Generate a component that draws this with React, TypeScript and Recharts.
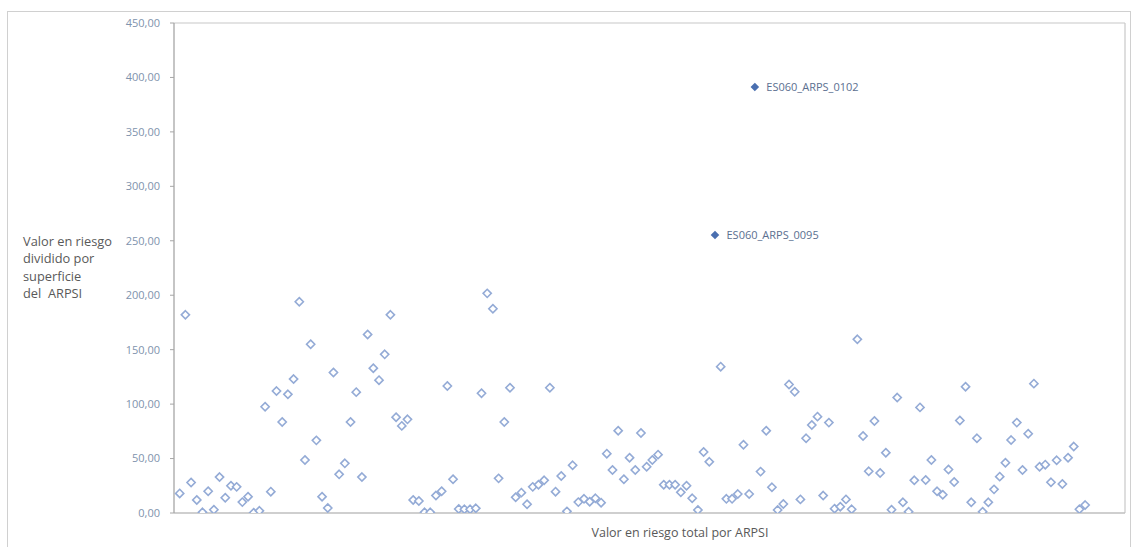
import React from 'react';
import { ScatterChart, Scatter, XAxis, YAxis, ReferenceLine } from 'recharts';

// Valor en riesgo dividido por superficie, one value per ARPSI (index order); null = highlighted ARPSI
const riskValues: (number | null)[] = [
  18, 182, 28, 12, 0.6, 20, 3, 33, 14, 25,
  24, 10, 15, 0.3, 2, 97.6, 19.6, 112, 83.6, 109,
  123, 194, 48.7, 155, 66.7, 15, 4.6, 129, 35.5, 45.6,
  83.6, 111, 33, 164, 133, 122, 145.7, 182, 88, 80,
  86, 12, 11, 0.6, 0.6, 16, 20, 116.6, 31, 3.7,
  3.4, 3.4, 4.3, 110, 201.7, 187.6, 31.8, 83.6, 115, 14.4,
  18.7, 8, 24, 26, 30, 115, 19.6, 34, 1.5, 43.8,
  10, 13, 10.4, 13.5, 9.5, 54.5, 39.5, 75.6, 31, 50.8,
  39.5, 73.5, 42.5, 48.7, 53.6, 26, 26, 26, 19, 25,
  13.5, 2.8, 56, 47, null, 134.4, 13, 13, 17.4, 62.7,
  17.4, null, 38, 75.6, 23.6, 2.8, 8.3, 118, 111.4, 12.5,
  68.6, 80.8, 88.5, 16, 83, 4, 5.8, 12.5, 3.4, 159.5,
  70.7, 38.3, 84.5, 36.7, 55.4, 3, 106, 9.8, 1.2, 30,
  97, 30.3, 48.7, 19.9, 16.8, 40, 28.5, 85, 116, 9.8,
  68.6, 1.2, 9.8, 21.7, 33.4, 46.2, 67, 83, 39.5, 72.8,
  118.8, 42.5, 44.4, 28.2, 48.4, 26.6, 50.8, 61, 3.4, 7.3,
];

const highlightIndex = [95, 102];
const highlightValues = [255.3, 391.2];
const highlightNames = ['ES060_ARPS_0095', 'ES060_ARPS_0102'];

const yTicks = [0, 50, 100, 150, 200, 250, 300, 350, 400, 450];
const yTitleLines = ['Valor en riesgo', 'dividido por', 'superficie', 'del  ARPSI'];
const xTitle = 'Valor en riesgo total por ARPSI';

const baseData = riskValues
  .map((v, i) => ({ x: i + 1, y: v }))
  .filter((d) => d.y !== null);
const highlightData = highlightIndex.map((x, i) => ({ x, y: highlightValues[i], name: highlightNames[i] }));

const FONT = '"Open Sans", "Segoe UI", sans-serif';

const HollowDiamond = (p: any) => {
  const { cx, cy } = p;
  const r = 4.1;
  return (
    <path
      d={`M${cx},${cy - r}L${cx + r},${cy}L${cx},${cy + r}L${cx - r},${cy}Z`}
      fill="#ffffff"
      stroke="#94abd6"
      strokeWidth={1.6}
    />
  );
};

const FilledDiamond = (p: any) => {
  const { cx, cy, payload } = p;
  const r = 4.3;
  return (
    <g>
      <path d={`M${cx},${cy - r}L${cx + r},${cy}L${cx},${cy + r}L${cx - r},${cy}Z`} fill="#4a6fb0" />
      <text x={cx + 11.5} y={cy} dy="0.35em" fontSize={11} fontFamily={FONT} fill="#5b6f90">
        {payload.name}
      </text>
    </g>
  );
};

const fmt = (v: number) => v.toFixed(2).replace('.', ',');

export default function App() {
  return (
    <div style={{ position: 'absolute', left: 0, top: 0, width: 1134, height: 547, background: '#fff', overflow: 'hidden' }}>
      <div
        style={{
          position: 'absolute',
          left: 7,
          top: 11,
          width: 1124,
          height: 560,
          border: '1px solid #d0d0d0',
          boxSizing: 'border-box',
        }}
      />
      <div style={{ position: 'absolute', left: 0, top: 0 }}>
        <ScatterChart width={1134} height={547} margin={{ top: 23, right: 9, bottom: 0, left: 0 }}>
          <XAxis
            type="number"
            dataKey="x"
            domain={[0, 167]}
            allowDataOverflow
            tick={false}
            tickLine={false}
            axisLine={{ stroke: '#bfbfbf', strokeWidth: 1.3 }}
            height={34}
            label={(props: any) => (
              <text x={680} y={537} textAnchor="middle" fontSize={12.5} fontFamily={FONT} fill="#595959">
                {xTitle}
              </text>
            )}
          />
          <YAxis
            type="number"
            dataKey="y"
            domain={[0, 450]}
            ticks={yTicks}
            allowDataOverflow
            width={174}
            tickSize={4}
            tickMargin={10}
            tickFormatter={fmt}
            tick={{ fontSize: 11, fontFamily: FONT, fill: '#8093ad' }}
            tickLine={{ stroke: '#a6a6a6' }}
            axisLine={{ stroke: '#a6a6a6', strokeWidth: 1.3 }}
            label={(props: any) => (
              <text x={23} y={245.5} fontSize={12.8} fontFamily={FONT} fill="#595959" style={{ whiteSpace: 'pre' }}>
                {yTitleLines.map((l, i) => (
                  <tspan key={i} x={23} dy={i === 0 ? 0 : 17.6}>
                    {l}
                  </tspan>
                ))}
              </text>
            )}
          />
          <ReferenceLine y={450} stroke="#c8c8c8" strokeWidth={1.2} ifOverflow="extendDomain" />
          <ReferenceLine x={167} stroke="#c8c8c8" strokeWidth={1.2} ifOverflow="extendDomain" />
          <Scatter data={baseData} dataKey="y" shape={HollowDiamond} isAnimationActive={false} />
          <Scatter data={highlightData} dataKey="y" shape={FilledDiamond} isAnimationActive={false} />
        </ScatterChart>
      </div>
    </div>
  );
}
